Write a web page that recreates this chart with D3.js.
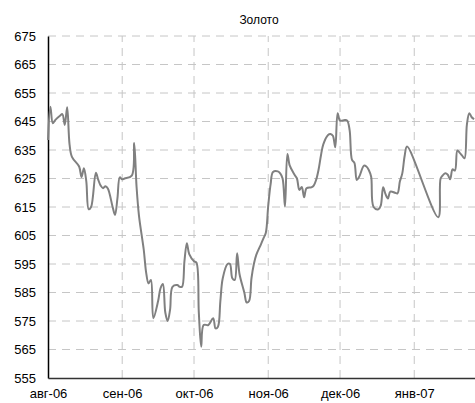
<!DOCTYPE html>
<html>
<head>
<meta charset="utf-8">
<script src="https://cdn.jsdelivr.net/npm/d3@7"></script>
<style>
  body { margin: 0; background: #fff; }
  text { font-family: "Liberation Sans", Arial, sans-serif; }
</style>
</head>
<body>
<div id="chart"></div>
<script>
// Золото, daily price
const dates = [
  "2006-08-01","2006-08-02","2006-08-03","2006-08-04","2006-08-06","2006-08-07","2006-08-08","2006-08-09",
  "2006-08-10","2006-08-11","2006-08-14","2006-08-15","2006-08-16","2006-08-17","2006-08-18","2006-08-19",
  "2006-08-21","2006-08-22","2006-08-23","2006-08-24","2006-08-25","2006-08-26","2006-08-28","2006-08-29",
  "2006-08-30","2006-08-31","2006-09-01","2006-09-02","2006-09-05","2006-09-06","2006-09-07","2006-09-08",
  "2006-09-10","2006-09-11","2006-09-12","2006-09-13","2006-09-14","2006-09-16","2006-09-17","2006-09-18",
  "2006-09-19","2006-09-20","2006-09-21","2006-09-22","2006-09-24","2006-09-25","2006-09-26","2006-09-27",
  "2006-09-28","2006-09-29","2006-10-01","2006-10-02","2006-10-03","2006-10-04","2006-10-05","2006-10-07",
  "2006-10-09","2006-10-10","2006-10-11","2006-10-12","2006-10-13","2006-10-15","2006-10-16","2006-10-17",
  "2006-10-18","2006-10-19","2006-10-20","2006-10-22","2006-10-23","2006-10-24","2006-10-25","2006-10-26",
  "2006-10-27","2006-10-29","2006-10-30","2006-10-31","2006-11-01","2006-11-02","2006-11-03","2006-11-05",
  "2006-11-06","2006-11-07","2006-11-08","2006-11-09","2006-11-10","2006-11-12","2006-11-13","2006-11-14",
  "2006-11-15","2006-11-16","2006-11-17","2006-11-19","2006-11-20","2006-11-21","2006-11-22","2006-11-23",
  "2006-11-24","2006-11-26","2006-11-27","2006-11-28","2006-11-29","2006-11-30","2006-12-01","2006-12-03",
  "2006-12-04","2006-12-05","2006-12-06","2006-12-07","2006-12-08","2006-12-09","2006-12-11","2006-12-12",
  "2006-12-13","2006-12-14","2006-12-15","2006-12-17","2006-12-18","2006-12-19","2006-12-20","2006-12-21",
  "2006-12-22","2006-12-24","2006-12-25","2006-12-26","2006-12-27","2006-12-28","2006-12-29","2007-01-11",
  "2007-01-12","2007-01-13","2007-01-14","2007-01-15","2007-01-16","2007-01-17","2007-01-18","2007-01-19",
  "2007-01-20","2007-01-21","2007-01-22","2007-01-23","2007-01-24","2007-01-25","2007-01-26"
];
const prices = [
  638.5,650.2,644.4,645.5,647.0,647.6,643.8,650.0,
  637.0,632.6,629.2,625.5,628.6,624.0,614.2,615.0,
  627.0,624.5,622.5,621.6,622.3,621.5,615.0,612.2,
  618.0,625.4,624.7,625.0,626.0,637.5,622.0,612.0,
  600.0,592.0,588.2,589.4,576.0,582.0,586.5,588.0,
  578.0,575.0,579.0,587.0,587.6,587.0,587.0,596.0,
  602.3,598.5,596.0,595.5,578.0,566.0,573.6,573.6,
  576.0,572.4,573.0,582.0,590.0,595.0,595.0,590.0,
  589.4,598.8,591.5,585.0,581.5,582.0,590.0,595.0,
  598.2,602.0,604.0,606.0,615.5,623.0,627.3,627.5,
  626.8,625.0,615.1,633.6,629.5,626.3,625.0,621.0,
  622.0,618.4,621.6,621.9,622.5,624.5,628.0,633.0,
  637.0,640.3,640.6,640.0,636.0,647.9,645.3,645.5,
  645.3,642.0,631.5,630.5,624.5,625.6,629.5,629.2,
  628.0,625.6,615.0,614.2,615.5,621.9,619.5,618.0,
  620.4,620.0,619.8,624.0,626.8,633.0,636.2,611.4,
  625.0,626.2,626.8,626.3,624.7,628.2,627.8,634.8,
  634.0,633.0,632.1,644.0,647.9,646.5,645.8
];
const yTicks = [555, 565, 575, 585, 595, 605, 615, 625, 635, 645, 655, 665, 675];
const monthTicks = ["2006-08-01","2006-09-01","2006-10-01","2006-11-01","2006-12-01","2007-01-01"];
const monthLabels = ["авг-06","сен-06","окт-06","ноя-06","дек-06","янв-07"];

const WIDTH = 475;
const HEIGHT = 403;
const margin = { left: 48, top: 36, bottom: 25 };

const parse = d3.timeParse("%Y-%m-%d");
const data = dates.map((d, i) => ({ date: parse(d), value: prices[i] }));

const svg = d3.select("#chart").append("svg")
  .attr("width", WIDTH).attr("height", HEIGHT);

const x = d3.scaleTime()
  .domain([parse("2006-08-01"), parse("2007-01-27")])
  .range([margin.left, 476.5]);
const y = d3.scaleLinear()
  .domain([555, 675])
  .range([HEIGHT - margin.bottom, margin.top]);

// title
svg.append("text")
  .attr("x", 259).attr("y", 24)
  .attr("text-anchor", "middle")
  .attr("font-size", 12)
  .text("Золото");

// horizontal grid
svg.append("g")
  .selectAll("line")
  .data(yTicks.slice(1))
  .join("line")
  .attr("x1", margin.left).attr("x2", WIDTH)
  .attr("y1", d => y(d)).attr("y2", d => y(d))
  .attr("stroke", "#c6c6c6")
  .attr("stroke-dasharray", "8,6");

// vertical grid
svg.append("g")
  .selectAll("line")
  .data(monthTicks.slice(1).map(parse))
  .join("line")
  .attr("x1", d => x(d)).attr("x2", d => x(d))
  .attr("y1", y(555)).attr("y2", y(675))
  .attr("stroke", "#c6c6c6")
  .attr("stroke-dasharray", "8,6");

// y axis
const yAxis = svg.append("g")
  .attr("transform", `translate(${margin.left},0)`)
  .call(d3.axisLeft(y).tickValues(yTicks).tickSize(0).tickPadding(12));
yAxis.select(".domain").attr("stroke", "#000").attr("stroke-width", 1.5);
yAxis.selectAll("text").attr("font-size", 13).attr("fill", "#000")
  .style("font-family", "'Liberation Sans', Arial, sans-serif");

// x axis
const xAxis = svg.append("g")
  .attr("transform", `translate(0,${y(555)})`)
  .call(d3.axisBottom(x)
    .tickValues(monthTicks.map(parse))
    .tickFormat((d, i) => monthLabels[i])
    .tickSize(0).tickPadding(11));
xAxis.select(".domain").attr("stroke", "#333").attr("stroke-width", 1.5);
xAxis.selectAll("text").attr("font-size", 13).attr("fill", "#000")
  .style("font-family", "'Liberation Sans', Arial, sans-serif");

// price line
const line = d3.line()
  .x(d => x(d.date))
  .y(d => y(d.value))
  .curve(d3.curveCatmullRom.alpha(0.5));

svg.append("path")
  .datum(data)
  .attr("d", line)
  .attr("fill", "none")
  .attr("stroke", "#808080")
  .attr("stroke-width", 2);
</script>
</body>
</html>
